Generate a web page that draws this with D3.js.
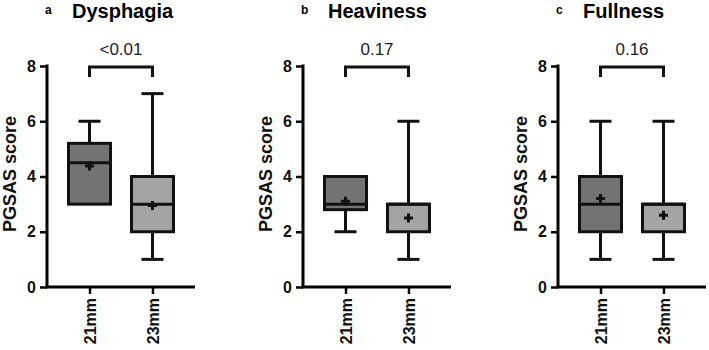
<!DOCTYPE html>
<html lang="en">
<head>
<meta charset="UTF-8">
<title>PGSAS box plots</title>
<script src="https://cdn.jsdelivr.net/npm/d3@7"></script>
<style>
  body { margin: 0; background: #fff; }
  text { font-family: "Liberation Sans", Arial, sans-serif; }
</style>
</head>
<body>
<svg width="709" height="350"></svg>
<script>
var groups = ['21mm', '23mm']
var letters = ['a', 'b', 'c']
var titles = ['Dysphagia', 'Heaviness', 'Fullness']
var pValues = ['<0.01', '0.17', '0.16']
var yTicks = [0, 2, 4, 6, 8]

// one row per panel, one value per group (21mm, 23mm)
var mins = [[3, 1], [2, 1], [1, 1]]
var q1s = [[3, 2], [2.8, 2], [2, 2]]
var medians = [[4.5, 3], [3, 3], [3, 3]]
var q3s = [[5.2, 4], [4, 3], [4, 3]]
var maxs = [[6, 7], [4, 6], [6, 6]]
var means = [[4.38, 2.95], [3.1, 2.5], [3.2, 2.6]]

var fills = ['#737373', '#a4a4a4']
var axisX0 = [47, 303, 558]   // y axis position of each panel
var plotW = 148
var yTop = 66, yBottom = 287
var boxW = 42, capW = 22, sw = 3

var svg = d3.select('svg')

var y = d3.scaleLinear().domain([0, 8]).range([yBottom, yTop])

letters.forEach(function (letter, p) {
    var g = svg.append('g').attr('transform', 'translate(' + axisX0[p] + ',0)')
    var x = d3.scalePoint().domain(groups).range([0, plotW]).padding(0.675)

    // titles
    g.append('text').attr('x', -2).attr('y', 14)
        .attr('font-size', 12).attr('font-weight', 'bold').text(letter)
    g.append('text').attr('x', 25).attr('y', 18)
        .attr('font-size', 20).attr('font-weight', 'bold').text(titles[p])

    // y axis
    var ya = g.append('g').call(d3.axisLeft(y).tickValues(yTicks).tickSize(7).tickPadding(4))
    ya.select('.domain').attr('stroke-width', sw).attr('d', 'M0,' + (yTop - 1.5) + 'V' + yBottom)
    ya.selectAll('.tick line').attr('stroke-width', 2.5)
    ya.selectAll('.tick text').attr('font-size', 16).attr('font-weight', 'bold')
        .attr('fill', '#111')

    // x axis
    var xa = g.append('g').attr('transform', 'translate(0,' + yBottom + ')')
        .call(d3.axisBottom(x).tickSize(7).tickPadding(4))
    xa.select('.domain').attr('stroke-width', sw).attr('d', 'M-1.5,0H' + plotW)
    xa.selectAll('.tick line').attr('stroke-width', 2.5)
    xa.selectAll('.tick text').attr('font-size', 16).attr('font-weight', 'bold')
        .attr('fill', '#111')
        .attr('transform', 'rotate(-90)')
        .attr('text-anchor', 'end').attr('x', -11).attr('y', 0).attr('dy', '0.35em')

    // boxes
    groups.forEach(function (grp, i) {
        var cx = x(grp)
        var bg = g.append('g').attr('stroke', '#111').attr('stroke-width', sw).attr('fill', 'none')
        // whiskers
        bg.append('line').attr('x1', cx).attr('x2', cx).attr('y1', y(q3s[p][i])).attr('y2', y(maxs[p][i]))
        bg.append('line').attr('x1', cx).attr('x2', cx).attr('y1', y(q1s[p][i])).attr('y2', y(mins[p][i]))
        if (maxs[p][i] > q3s[p][i])
            bg.append('line').attr('x1', cx - capW / 2).attr('x2', cx + capW / 2)
                .attr('y1', y(maxs[p][i])).attr('y2', y(maxs[p][i]))
        if (mins[p][i] < q1s[p][i])
            bg.append('line').attr('x1', cx - capW / 2).attr('x2', cx + capW / 2)
                .attr('y1', y(mins[p][i])).attr('y2', y(mins[p][i]))
        bg.append('rect').attr('x', cx - boxW / 2).attr('width', boxW)
            .attr('y', y(q3s[p][i])).attr('height', y(q1s[p][i]) - y(q3s[p][i]))
            .attr('fill', fills[i])
        bg.append('line').attr('x1', cx - boxW / 2).attr('x2', cx + boxW / 2)
            .attr('y1', y(medians[p][i])).attr('y2', y(medians[p][i]))
        // mean marker
        var my = y(means[p][i])
        bg.append('path').attr('d', 'M' + (cx - 4.5) + ',' + my + 'H' + (cx + 4.5) + 'M' + cx + ',' + (my - 4.5) + 'V' + (my + 4.5))
    })

    // significance bracket
    var by = y(8) + 1
    g.append('path').attr('fill', 'none').attr('stroke', '#111').attr('stroke-width', sw)
        .attr('d', 'M' + x(groups[0]) + ',' + (by + 10) + 'V' + by + 'H' + x(groups[1]) + 'V' + (by + 10))
    g.append('text').attr('x', (x(groups[0]) + x(groups[1])) / 2).attr('y', 55)
        .attr('text-anchor', 'middle').attr('font-size', 17).attr('fill', '#222').text(pValues[p])

    // y axis title
    g.append('text').attr('transform', 'translate(-31,174) rotate(-90)')
        .attr('text-anchor', 'middle').attr('font-size', 18).attr('font-weight', 'bold')
        .attr('fill', '#111').text('PGSAS score')
})
</script>
</body>
</html>
